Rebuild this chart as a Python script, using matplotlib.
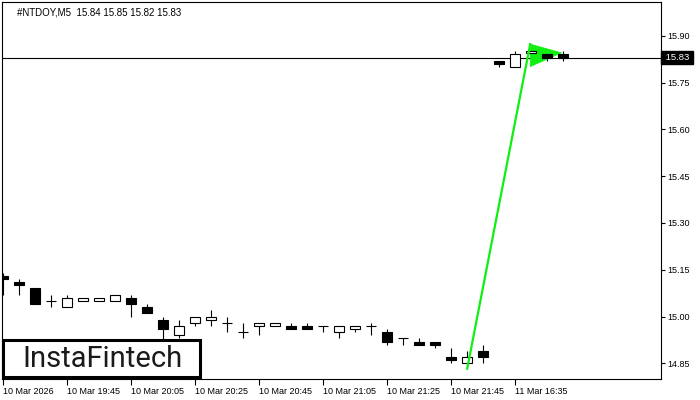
import matplotlib
matplotlib.use("Agg")
import matplotlib.pyplot as plt
from matplotlib.patches import Rectangle, Polygon

# M5 candles, oldest first
opens = [15.13, 15.11, 15.09, 15.05, 15.03, 15.05, 15.05, 15.05, 15.06, 15.03,
         14.99, 14.94, 14.98, 14.99, 14.98, 14.95, 14.97, 14.97, 14.97, 14.97,
         14.97, 14.95, 14.96, 14.97, 14.95, 14.93, 14.92, 14.92, 14.87, 14.85,
         14.89, 15.82, 15.80, 15.845, 15.84, 15.84]
highs = [15.14, 15.12, 15.09, 15.07, 15.07, 15.06, 15.06, 15.07, 15.07, 15.04,
         15.00, 14.99, 15.00, 15.02, 15.00, 14.98, 14.98, 14.98, 14.98, 14.98,
         14.97, 14.97, 14.97, 14.98, 14.96, 14.93, 14.93, 14.92, 14.90, 14.89,
         14.91, 15.82, 15.85, 15.85, 15.84, 15.85]
lows = [15.07, 15.07, 15.04, 15.03, 15.03, 15.05, 15.05, 15.05, 15.00, 15.01,
        14.92, 14.93, 14.97, 14.97, 14.95, 14.93, 14.94, 14.97, 14.96, 14.96,
        14.95, 14.93, 14.95, 14.94, 14.91, 14.91, 14.91, 14.90, 14.85, 14.85,
        14.85, 15.80, 15.80, 15.84, 15.82, 15.82]
closes = [15.12, 15.10, 15.04, 15.05, 15.06, 15.06, 15.06, 15.07, 15.04, 15.01,
          14.96, 14.97, 15.00, 15.00, 14.98, 14.95, 14.98, 14.98, 14.96, 14.96,
          14.97, 14.97, 14.97, 14.97, 14.92, 14.93, 14.91, 14.91, 14.86, 14.87,
          14.87, 15.81, 15.84, 15.85, 15.83, 15.83]

tick_idx = [0, 4, 8, 12, 16, 20, 24, 28, 32]
tick_labels = ["10 Mar 2026", "10 Mar 19:45", "10 Mar 20:05", "10 Mar 20:25",
               "10 Mar 20:45", "10 Mar 21:05", "10 Mar 21:25", "10 Mar 21:45",
               "11 Mar 16:35"]
price_ticks = [14.85, 15.00, 15.15, 15.30, 15.45, 15.60, 15.75, 15.90]
last_price = 15.83

# pennant pattern: pole and flag
pole_x = [29, 32.94]
pole_y = [14.833, 15.873]
flag_x = [32.94, 32.94, 34.9]
flag_y = [15.873, 15.801, 15.845]

plt.rcParams["font.family"] = ["Liberation Sans", "DejaVu Sans"]

fig = plt.figure(figsize=(7, 4), dpi=100)
ax = fig.add_axes([2 / 700, 21 / 400, 658.7 / 700, 377 / 400])

body_w = 0.62
for i, (o, h, l, c) in enumerate(zip(opens, highs, lows, closes)):
    ax.vlines(i, l, h, color="black", lw=0.8, zorder=2)
    if abs(c - o) < 1e-9:
        ax.hlines(o, i - body_w / 2, i + body_w / 2, color="black", lw=0.8, zorder=3)
    else:
        fc = "white" if c > o else "black"
        ax.add_patch(Rectangle((i - body_w / 2, min(o, c)), body_w, abs(c - o),
                               facecolor=fc, edgecolor="black", lw=0.8, zorder=3))

ax.axhline(last_price, color="black", lw=0.8, zorder=1)

green = "#11ee11"
ax.plot(pole_x, pole_y, color=green, lw=1.6, zorder=4)
ax.add_patch(Polygon(list(zip(flag_x, flag_y)), closed=True, facecolor=green,
                     edgecolor=green, lw=0.5, zorder=2.5))

ax.set_xlim(-0.09, 41.1)
ax.set_ylim(14.80, 16.008)

ax.yaxis.tick_right()
ax.set_yticks(price_ticks)
ax.set_yticklabels([f"{p:.2f}" for p in price_ticks])
ax.tick_params(axis="y", direction="out", length=3, width=0.8, pad=2,
               labelsize=6.5, colors="black")
ax.set_xticks(tick_idx)
ax.set_xticklabels(tick_labels, ha="left")
ax.tick_params(axis="x", direction="out", length=4, width=0.8, pad=2,
               labelsize=6.5, colors="black")
for s in ax.spines.values():
    s.set_linewidth(0.8)
    s.set_color("black")

# current price tag on the scale
ax.text(1.003, last_price, f" {last_price:.2f} ", transform=ax.get_yaxis_transform(),
        ha="left", va="center", fontsize=6.8, color="white",
        bbox=dict(facecolor="black", edgecolor="black", pad=1.3), zorder=6,
        clip_on=False)

ax.text(0.023, 0.985, "#NTDOY,M5  15.84 15.85 15.82 15.83", transform=ax.transAxes,
        ha="left", va="top", fontsize=7, color="black")

# logo box
fig.patches.append(Rectangle((3 / 700, 23 / 400), 197 / 700, 37 / 400,
                             transform=fig.transFigure, facecolor="white",
                             edgecolor="black", lw=2.2, zorder=10))
fig.text(102 / 700, 41 / 400, "InstaFintech", ha="center", va="center",
         fontsize=21, color="#1a1a1a", family=["Roboto", "DejaVu Sans"],
         weight="normal", zorder=11)

fig.savefig("out.png", dpi=100)
